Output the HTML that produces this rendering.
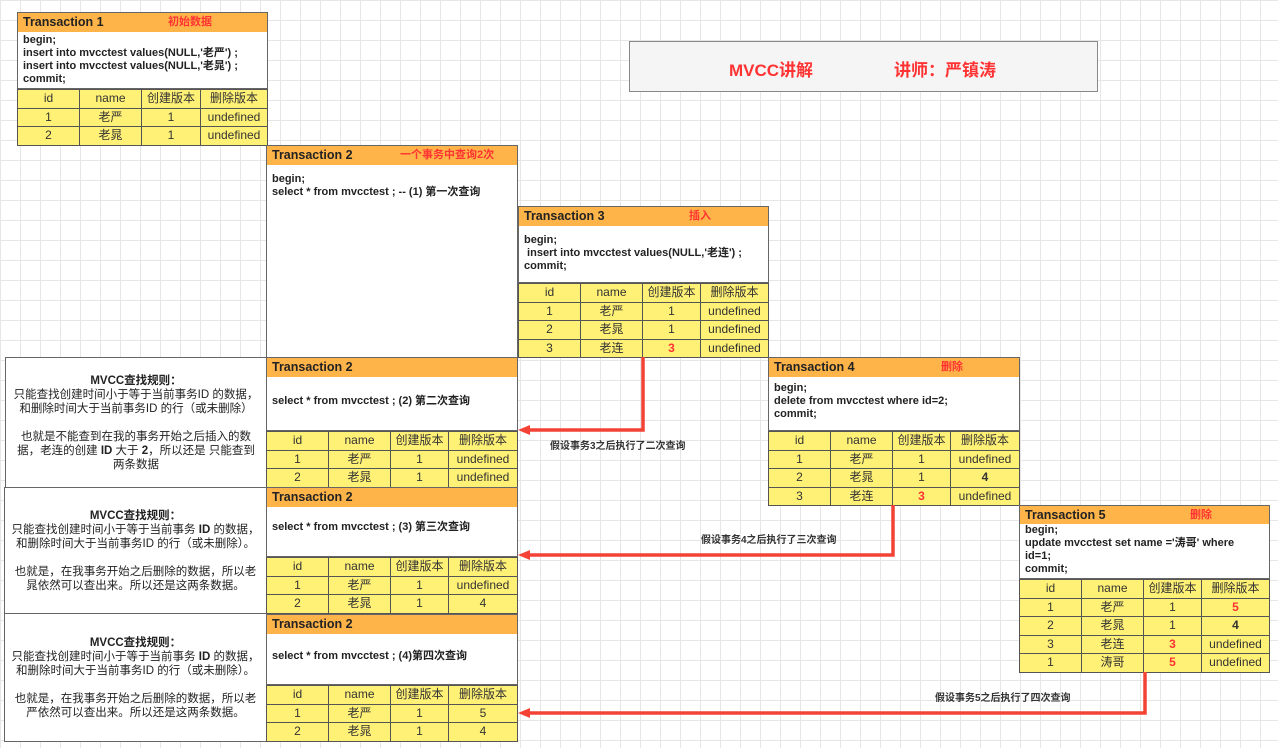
<!DOCTYPE html>
<html><head><meta charset="utf-8"><style>
*{margin:0;padding:0;box-sizing:border-box}
body{width:1278px;height:748px;position:relative;overflow:hidden;background:#fff;
background-image:linear-gradient(#e6e6e6 1px,transparent 1px),linear-gradient(90deg,#e6e6e6 1px,transparent 1px);
background-size:20px 20px;font-family:"Liberation Sans","Noto Sans CJK SC",sans-serif;color:#222}
.a{position:absolute}
.hd{position:absolute;background:#ffb449;border:1px solid #666;font-weight:bold;font-size:12.5px;padding-left:5px;line-height:18px}
.hd span{position:absolute;color:#f33;font-size:11px}
.bd{position:absolute;background:#fff;border:1px solid #666;border-top:none;font-weight:bold;font-size:11px;padding:3px 5px;line-height:13px;color:#222}
table{position:absolute;border-collapse:collapse;background:#fff176;font-size:12px;color:#333}
td{border:1px solid #555;text-align:center;padding:0;height:18.5px;line-height:17px}
.r{color:#f33;font-weight:bold}.b{font-weight:bold}
.note{position:absolute;background:#fff;border:1px solid #666;font-size:11.5px;text-align:center;line-height:14px;display:flex;align-items:center;justify-content:center;padding:0 6px;color:#222}
.note b{font-weight:bold}
.lbl{position:absolute;font-size:10px;font-weight:bold;color:#333}
</style></head><body>

<div class="a" style="left:629px;top:41px;width:469px;height:51px;background:#f5f5f5;border:1px solid #888"></div>
<div class="a" style="left:729px;top:56px;font-size:17px;font-weight:bold;color:#f33">MVCC讲解</div>
<div class="a" style="left:894px;top:56px;font-size:17px;font-weight:bold;color:#f33">讲师：严镇涛</div>

<!-- T1 -->
<div class="hd" style="left:17px;top:12px;width:251px;height:21px">Transaction 1<span style="left:150px">初始数据</span></div>
<div class="bd" style="left:17px;top:32px;width:251px;height:57px;padding-top:2px">begin;<br>insert into mvcctest values(NULL,'老严') ;<br>insert into mvcctest values(NULL,'老晁') ;<br>commit;</div>
<table style="left:17px;top:89px;width:251px">
<tr><td style="width:62px">id</td><td style="width:62px">name</td><td style="width:59px">创建版本</td><td>删除版本</td></tr>
<tr><td>1</td><td>老严</td><td>1</td><td>undefined</td></tr>
<tr><td>2</td><td>老晁</td><td>1</td><td>undefined</td></tr></table>

<!-- T2a -->
<div class="hd" style="left:266px;top:145px;width:252px;height:21px">Transaction 2<span style="left:133px">一个事务中查询2次</span></div>
<div class="bd" style="left:266px;top:165px;width:252px;height:41px;padding-top:8px;border-bottom:1px solid #666">begin;<br>select * from mvcctest ; -- (1) 第一次查询</div>
<div class="a" style="left:266px;top:205px;width:252px;height:153px;background:#fff;border:1px solid #666;border-top:none"></div>

<!-- T3 -->
<div class="hd" style="left:518px;top:206px;width:251px;height:21px">Transaction 3<span style="left:170px">插入</span></div>
<div class="bd" style="left:518px;top:226px;width:251px;height:57px;padding-top:8px">begin;<br>&nbsp;insert into mvcctest values(NULL,'老连') ;<br>commit;</div>
<table style="left:518px;top:283px;width:251px">
<tr><td style="width:62px">id</td><td style="width:62px">name</td><td style="width:58px">创建版本</td><td>删除版本</td></tr>
<tr><td>1</td><td>老严</td><td>1</td><td>undefined</td></tr>
<tr><td>2</td><td>老晁</td><td>1</td><td>undefined</td></tr>
<tr><td>3</td><td>老连</td><td class="r">3</td><td>undefined</td></tr></table>

<!-- Note 1 / T2b -->
<div class="note" style="left:5px;top:357px;width:262px;height:131px"><div><b>MVCC查找规则：</b><br>只能查找创建时间小于等于当前事务ID 的数据，<br>和删除时间大于当前事务ID 的行（或未删除）<br><br>也就是不能查到在我的事务开始之后插入的数据，老连的创建 <b>ID</b> 大于 <b>2</b>，所以还是 只能查到两条数据</div></div>
<div class="hd" style="left:266px;top:357px;width:252px;height:21px">Transaction 2</div>
<div class="bd" style="left:266px;top:377px;width:252px;height:54px;padding-top:18px">select * from mvcctest ; (2) 第二次查询</div>
<table style="left:266px;top:431px;width:252px">
<tr><td style="width:62px">id</td><td style="width:62px">name</td><td style="width:58px">创建版本</td><td>删除版本</td></tr>
<tr><td>1</td><td>老严</td><td>1</td><td>undefined</td></tr>
<tr><td>2</td><td>老晁</td><td>1</td><td>undefined</td></tr></table>

<!-- Note 2 / T2c -->
<div class="note" style="left:4px;top:487px;width:263px;height:127px"><div><b>MVCC查找规则：</b><br>只能查找创建时间小于等于当前事务 <b>ID</b> 的数据，<br>和删除时间大于当前事务ID 的行（或未删除）。<br><br>也就是，在我事务开始之后删除的数据，所以老晁依然可以查出来。所以还是这两条数据。</div></div>
<div class="hd" style="left:266px;top:487px;width:252px;height:21px">Transaction 2</div>
<div class="bd" style="left:266px;top:507px;width:252px;height:50px;padding-top:14px">select * from mvcctest ; (3) 第三次查询</div>
<table style="left:266px;top:557px;width:252px">
<tr><td style="width:62px">id</td><td style="width:62px">name</td><td style="width:58px">创建版本</td><td>删除版本</td></tr>
<tr><td>1</td><td>老严</td><td>1</td><td>undefined</td></tr>
<tr><td>2</td><td>老晁</td><td>1</td><td>4</td></tr></table>

<!-- Note 3 / T2d -->
<div class="note" style="left:4px;top:613px;width:263px;height:129px"><div><b>MVCC查找规则：</b><br>只能查找创建时间小于等于当前事务 <b>ID</b> 的数据，<br>和删除时间大于当前事务ID 的行（或未删除）。<br><br>也就是，在我事务开始之后删除的数据，所以老严依然可以查出来。所以还是这两条数据。</div></div>
<div class="hd" style="left:266px;top:614px;width:252px;height:21px">Transaction 2</div>
<div class="bd" style="left:266px;top:634px;width:252px;height:51px;padding-top:16px">select * from mvcctest ; (4)第四次查询</div>
<table style="left:266px;top:685px;width:252px">
<tr><td style="width:62px">id</td><td style="width:62px">name</td><td style="width:58px">创建版本</td><td>删除版本</td></tr>
<tr><td>1</td><td>老严</td><td>1</td><td>5</td></tr>
<tr><td>2</td><td>老晁</td><td>1</td><td>4</td></tr></table>

<!-- T4 -->
<div class="hd" style="left:768px;top:357px;width:252px;height:21px">Transaction 4<span style="left:172px">删除</span></div>
<div class="bd" style="left:768px;top:377px;width:252px;height:54px;padding-top:5px">begin;<br>delete from mvcctest where id=2;<br>commit;</div>
<table style="left:768px;top:431px;width:252px">
<tr><td style="width:62px">id</td><td style="width:62px">name</td><td style="width:58px">创建版本</td><td>删除版本</td></tr>
<tr><td>1</td><td>老严</td><td>1</td><td>undefined</td></tr>
<tr><td>2</td><td>老晁</td><td>1</td><td class="b">4</td></tr>
<tr><td>3</td><td>老连</td><td class="r">3</td><td>undefined</td></tr></table>

<!-- T5 -->
<div class="hd" style="left:1019px;top:505px;width:251px;height:20px">Transaction 5<span style="left:170px">删除</span></div>
<div class="bd" style="left:1019px;top:524px;width:251px;height:55px;padding:0 30px 0 5px">begin;<br>update mvcctest set name ='涛哥' where id=1;<br>commit;</div>
<table style="left:1019px;top:579px;width:251px">
<tr><td style="width:62px">id</td><td style="width:62px">name</td><td style="width:58px">创建版本</td><td>删除版本</td></tr>
<tr><td>1</td><td>老严</td><td>1</td><td class="r">5</td></tr>
<tr><td>2</td><td>老晁</td><td>1</td><td class="b">4</td></tr>
<tr><td>3</td><td>老连</td><td class="r">3</td><td>undefined</td></tr>
<tr><td>1</td><td>涛哥</td><td class="r">5</td><td>undefined</td></tr></table>

<svg class="a" style="left:0;top:0" width="1278" height="748">
<g fill="none" stroke="#f44336" stroke-width="3.5">
<polyline points="643,357 643,430 528,430"/>
<polyline points="893,505 893,555 528,555"/>
<polyline points="1145,672 1145,713 528,713"/>
</g>
<g fill="#f44336">
<polygon points="518,430 530,425 530,435"/>
<polygon points="518,555 530,550 530,560"/>
<polygon points="518,713 530,708 530,718"/>
</g>
</svg>
<div class="lbl" style="left:550px;top:437px">假设事务3之后执行了二次查询</div>
<div class="lbl" style="left:701px;top:531px">假设事务4之后执行了三次查询</div>
<div class="lbl" style="left:935px;top:689px">假设事务5之后执行了四次查询</div>
</body></html>
